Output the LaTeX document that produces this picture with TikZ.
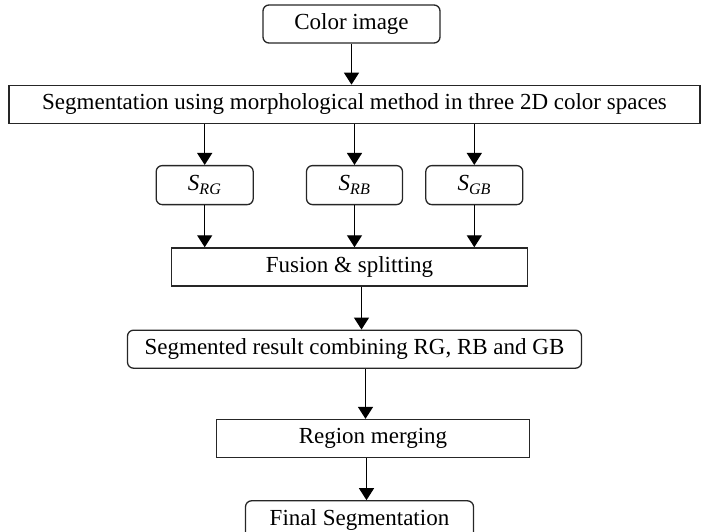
\documentclass[tikz,border=0pt]{standalone}
\usepackage{fontspec}
\setmainfont{Liberation Serif}
\usetikzlibrary{positioning,arrows.meta}
\tikzstyle{rbox}=[rectangle, rounded corners=6pt, draw=black!85, line width=1.3pt,
                  minimum height=38pt, inner sep=2pt, text centered,
                  font=\fontsize{23}{27}\selectfont]
\tikzstyle{sbox}=[rectangle, draw=black!85, line width=1.3pt,
                  minimum height=38pt, inner sep=2pt, text centered,
                  font=\fontsize{23}{27}\selectfont]
\tikzstyle{pline}=[-{Triangle[length=12pt,width=15pt]}, line width=1.4pt]
\begin{document}
\begin{tikzpicture}[x=1pt,y=1pt,node distance=0pt]
\useasboundingbox (0,0) rectangle (702,-531);

\node (COLIMG) [rbox, minimum width=177pt] at (351.5,-24) {Color image};

\node (SEGM) [sbox, minimum width=691pt, below=41pt of COLIMG, xshift=3pt]
  {Segmentation using morphological method in three 2D color spaces};
 \draw[pline] (COLIMG.south) -- (COLIMG.south |- SEGM.north);

\node (SRB) [rbox, minimum width=96pt, minimum height=39pt, below=41pt of SEGM]
  {\textit{S\textsubscript{RB}}};
\node (SRG) [rbox, minimum width=97pt, minimum height=39pt, left=52pt of SRB]
  {\textit{S\textsubscript{RG}}};
\node (SGB) [rbox, minimum width=97pt, minimum height=39pt, right=22pt of SRB]
  {\textit{S\textsubscript{GB}}};
 \draw[pline] (SRG |- SEGM.south) -- (SRG.north);
 \draw[pline] (SRB |- SEGM.south) -- (SRB.north);
 \draw[pline] (SGB |- SEGM.south) -- (SGB.north);

\node (FUSION) [sbox, minimum width=356pt, below=42pt of SRB, xshift=-5pt]
  {Fusion \& splitting};
 \draw[pline] (SRG.south) -- (SRG.south |- FUSION.north);
 \draw[pline] (SRB.south) -- (SRB.south |- FUSION.north);
 \draw[pline] (SGB.south) -- (SGB.south |- FUSION.north);

\node (RESULT) [rbox, minimum width=454pt, below=43pt of FUSION, xshift=5pt]
  {Segmented result combining RG, RB and GB};
 \draw[pline] ([xshift=12pt]FUSION.south) -- ([xshift=12pt]FUSION.south |- RESULT.north);

\node (MERGE) [sbox, minimum width=313pt, below=50pt of RESULT, xshift=18.5pt]
  {Region merging};
 \draw[pline] ([xshift=11pt]RESULT.south) -- ([xshift=11pt]RESULT.south |- MERGE.north);

\node (FINAL) [rbox, minimum width=228pt, below=42pt of MERGE, xshift=-13.5pt]
  {Final Segmentation};
 \draw[pline] ([xshift=7pt]FINAL.north |- MERGE.south) -- ([xshift=7pt]FINAL.north);

\end{tikzpicture}
\end{document}
